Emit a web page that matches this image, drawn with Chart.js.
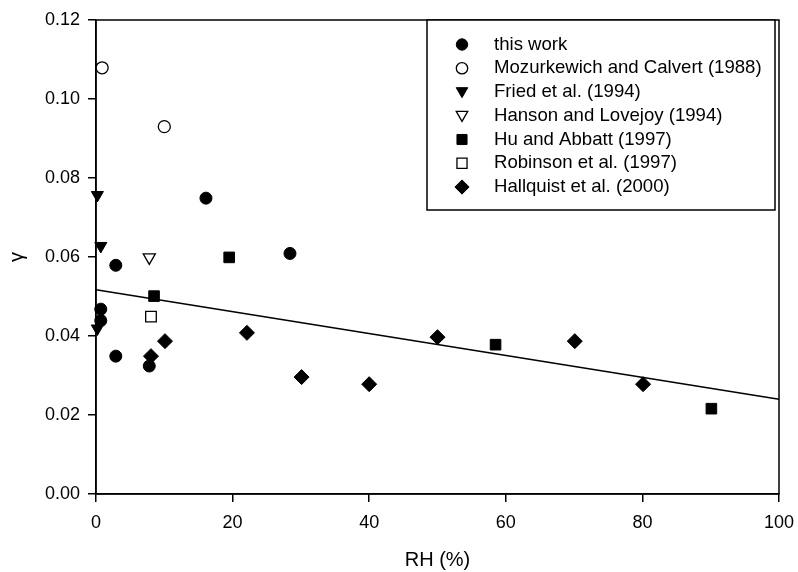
<!DOCTYPE html>
<html>
<head>
<meta charset="utf-8">
<script src="https://cdn.jsdelivr.net/npm/chart.js@4/dist/chart.umd.min.js"></script>
<style>
html,body{margin:0;padding:0;background:#fff;}
#wrap{width:798px;height:572px;position:relative;}
</style>
</head>
<body>
<div id="wrap"><canvas id="c" width="798" height="572"></canvas></div>
<script>
// ---- data ----
const seriesLabels = [
  'this work',
  'Mozurkewich and Calvert (1988)',
  'Fried et al. (1994)',
  'Hanson and Lovejoy (1994)',
  'Hu and Abbatt (1997)',
  'Robinson et al. (1997)',
  'Hallquist et al. (2000)'
];
const thisWorkRH    = [0.7, 0.7, 2.9, 2.9, 7.8, 16.1, 28.4];
const thisWorkGamma = [0.0468, 0.0439, 0.0579, 0.0349, 0.0324, 0.0749, 0.0609];
const mozRH         = [0.9, 10.0];
const mozGamma      = [0.1079, 0.0930];
const friedRH       = [0.2, 0.7, 0.2];
const friedGamma    = [0.0757, 0.0628, 0.0419];
const hansonRH      = [7.8];
const hansonGamma   = [0.0599];
const huRH          = [8.5, 19.5, 58.5, 90.1];
const huGamma       = [0.0501, 0.0599, 0.0378, 0.0216];
const robinsonRH    = [8.05];
const robinsonGamma = [0.0449];
const hallRH        = [8.05, 10.1, 22.1, 30.1, 40.0, 50.0, 70.1, 80.1];
const hallGamma     = [0.0349, 0.0387, 0.0408, 0.0296, 0.0278, 0.0397, 0.0387, 0.0278];
const fitRH         = [0, 100];
const fitGamma      = [0.0517, 0.0240];
const xTickValues   = [0, 20, 40, 60, 80, 100];
const yTickValues   = [0, 0.02, 0.04, 0.06, 0.08, 0.10, 0.12];

// ---- styling ----
const FONT = "'Liberation Sans', Arial, Helvetica, sans-serif";
const pts = (xs, ys) => xs.map((x, i) => ({x: x, y: ys[i]}));
const markerStyles = [
  {pointStyle: 'circle',   radius: 6,   fill: '#000', lw: 1},
  {pointStyle: 'circle',   radius: 6,   fill: '#fff', lw: 1.3},
  {pointStyle: 'triangle', radius: 7,   fill: '#000', lw: 1, rot: 180},
  {pointStyle: 'triangle', radius: 7,   fill: '#fff', lw: 1.3, rot: 180},
  {pointStyle: 'rect',     radius: 7.5, fill: '#000', lw: 1},
  {pointStyle: 'rect',     radius: 7.5, fill: '#fff', lw: 1.3},
  {pointStyle: 'rectRot',  radius: 7.5, fill: '#000', lw: 1}
];
const seriesData = [
  pts(thisWorkRH, thisWorkGamma),
  pts(mozRH, mozGamma),
  pts(friedRH, friedGamma),
  pts(hansonRH, hansonGamma),
  pts(huRH, huGamma),
  pts(robinsonRH, robinsonGamma),
  pts(hallRH, hallGamma)
];
const datasets = seriesData.map((d, i) => {
  const m = markerStyles[i];
  return {
    type: 'scatter',
    label: seriesLabels[i],
    data: d,
    pointStyle: m.pointStyle,
    pointRadius: m.radius,
    pointRotation: m.rot || 0,
    backgroundColor: m.fill,
    borderColor: '#000',
    pointBorderWidth: m.lw,
    clip: false,
    order: 1
  };
});
datasets.push({
  type: 'line',
  label: 'fit',
  data: pts(fitRH, fitGamma),
  borderColor: '#000',
  borderWidth: 1.6,
  pointRadius: 0,
  fill: false,
  clip: false,
  order: 2
});

// box around plot area
const boxPlugin = {
  id: 'box',
  beforeDatasetsDraw(chart) {
    const {ctx, chartArea: a} = chart;
    ctx.save();
    ctx.strokeStyle = '#000';
    ctx.lineWidth = 1.5;
    ctx.strokeRect(a.left, a.top, a.right - a.left, a.bottom - a.top);
    ctx.restore();
  }
};

function drawMarker(ctx, style, x, y, r, fill, lw) {
  ctx.save();
  ctx.beginPath();
  if (style === 'circle') {
    ctx.arc(x, y, r, 0, Math.PI * 2);
  } else if (style === 'triangle') {
    const s = Math.sin(Math.PI / 3) * r;
    ctx.moveTo(x, y + r);
    ctx.lineTo(x - s, y - r / 2);
    ctx.lineTo(x + s, y - r / 2);
    ctx.closePath();
  } else if (style === 'rect') {
    const h = r * Math.SQRT1_2;
    ctx.rect(x - h, y - h, 2 * h, 2 * h);
  } else if (style === 'rectRot') {
    ctx.moveTo(x, y - r);
    ctx.lineTo(x + r, y);
    ctx.lineTo(x, y + r);
    ctx.lineTo(x - r, y);
    ctx.closePath();
  }
  ctx.fillStyle = fill;
  ctx.fill();
  ctx.strokeStyle = '#000';
  ctx.lineWidth = lw;
  ctx.stroke();
  ctx.restore();
}

// boxed legend inside the plot, upper right
const legendPlugin = {
  id: 'boxLegend',
  afterDraw(chart) {
    const {ctx, chartArea: a} = chart;
    const left = 427, top = a.top, right = a.right - 4, bottom = 210;
    ctx.save();
    ctx.fillStyle = '#fff';
    ctx.fillRect(left, top, right - left, bottom - top);
    ctx.strokeStyle = '#000';
    ctx.lineWidth = 1.5;
    ctx.strokeRect(left, top, right - left, bottom - top);
    ctx.font = '18.6px ' + FONT;
    ctx.textBaseline = 'middle';
    ctx.textAlign = 'left';
    ctx.fillStyle = '#000';
    seriesLabels.forEach((lab, i) => {
      const y = 44.5 + i * 23.75;
      const m = markerStyles[i];
      drawMarker(ctx, m.pointStyle, 462, y + (m.pointStyle === 'triangle' ? -1 : 0),
        m.radius * 0.95, m.fill, m.lw);
      ctx.fillStyle = '#000';
      ctx.fillText(lab, 494, y);
    });
    ctx.restore();
  }
};

new Chart(document.getElementById('c').getContext('2d'), {
  type: 'scatter',
  data: {datasets: datasets},
  options: {
    responsive: false,
    animation: false,
    devicePixelRatio: 1,
    layout: {padding: {top: 20, right: 19, left: 0, bottom: 0}},
    plugins: {legend: {display: false}, tooltip: {enabled: false}},
    scales: {
      x: {
        type: 'linear', min: 0, max: 100,
        afterBuildTicks: s => { s.ticks = xTickValues.map(v => ({value: v})); },
        afterFit: s => { s.height = 78; s.paddingLeft = 0; s.paddingRight = 0; },
        ticks: {color: '#000', font: {family: FONT, size: 18}, padding: 10, maxRotation: 0,
                callback: v => String(v)},
        grid: {drawOnChartArea: false, drawTicks: true, tickLength: 8, color: '#000', lineWidth: 1.5},
        border: {display: true, color: '#000', width: 1.5},
        title: {display: true, text: 'RH (%)', color: '#000', font: {family: FONT, size: 20},
                padding: {top: 0, bottom: 0}}
      },
      y: {
        type: 'linear', min: 0, max: 0.12,
        afterBuildTicks: s => { s.ticks = yTickValues.map(v => ({value: v})); },
        afterFit: s => { s.width = 96; s.paddingTop = 0; s.paddingBottom = 0; },
        ticks: {color: '#000', font: {family: FONT, size: 18}, padding: 8,
                callback: v => Number(v).toFixed(2)},
        grid: {drawOnChartArea: false, drawTicks: true, tickLength: 8, color: '#000', lineWidth: 1.5},
        border: {display: true, color: '#000', width: 1.5},
        title: {display: true, text: 'γ', color: '#000', font: {family: FONT, size: 20},
                padding: {top: 5, bottom: 0}}
      }
    }
  },
  plugins: [boxPlugin, legendPlugin]
});
</script>
</body>
</html>
